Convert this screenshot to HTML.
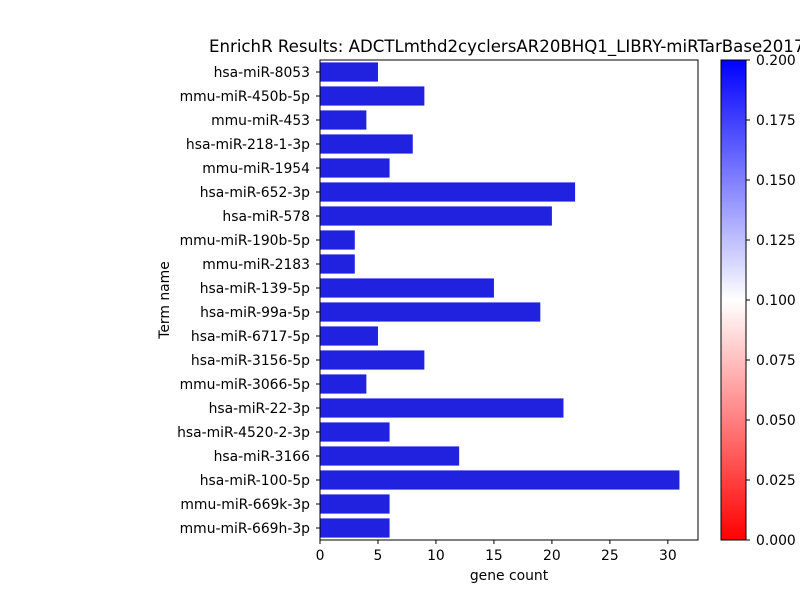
<!DOCTYPE html>
<html><head><meta charset="utf-8"><style>
body{margin:0;background:#fff;font-family:"Liberation Sans","DejaVu Sans",sans-serif;overflow:hidden;}
svg text{font-family:"DejaVu Sans","Liberation Sans",sans-serif;}
</style></head><body>
<svg id="chart" width="800" height="600" viewBox="0 0 800 600">
<defs><linearGradient id="bwr" x1="0" y1="1" x2="0" y2="0">
<stop offset="0" stop-color="#ff0000"/><stop offset="0.5" stop-color="#ffffff"/><stop offset="1" stop-color="#0000ff"/>
</linearGradient></defs>
<g id="bars"></g>
<g id="axes"></g>
<text x="209" y="52" font-size="16.6">EnrichR Results: ADCTLmthd2cyclersAR20BHQ1_LIBRY-miRTarBase2017</text>
<text x="509" y="580" font-size="13.9" text-anchor="middle">gene count</text>
<text transform="translate(169,300) rotate(-90)" font-size="13.9" text-anchor="middle">Term name</text>
<rect x="721" y="60" width="25" height="480" fill="url(#bwr)" stroke="#000" stroke-width="1"/>
<g id="cbticks"></g>
</svg>
<script>
const categories=["hsa-miR-8053","mmu-miR-450b-5p","mmu-miR-453","hsa-miR-218-1-3p","mmu-miR-1954","hsa-miR-652-3p","hsa-miR-578","mmu-miR-190b-5p","mmu-miR-2183","hsa-miR-139-5p","hsa-miR-99a-5p","hsa-miR-6717-5p","hsa-miR-3156-5p","mmu-miR-3066-5p","hsa-miR-22-3p","hsa-miR-4520-2-3p","hsa-miR-3166","hsa-miR-100-5p","mmu-miR-669k-3p","mmu-miR-669h-3p"];
const counts=[5,9,4,8,6,22,20,3,3,15,19,5,9,4,21,6,12,31,6,6];
const xTicks=[0,5,10,15,20,25,30];
const cbTicks=["0.000","0.025","0.050","0.075","0.100","0.125","0.150","0.175","0.200"];
const NS="http://www.w3.org/2000/svg";
const L=320,R=698,T=60,B=540,xmax=32.6;
const xs=v=>L+v/xmax*(R-L);
const band=(B-T)/categories.length;
const ys=i=>T+band*(i+0.5);
function mk(p,tag,a){const e=document.createElementNS(NS,tag);for(const k in a)e.setAttribute(k,a[k]);p.appendChild(e);return e;}
const bars=document.getElementById('bars'),axes=document.getElementById('axes'),cb=document.getElementById('cbticks');
categories.forEach((c,i)=>{
 const r=mk(bars,'rect',{x:L,y:ys(i)-band*0.4,width:xs(counts[i])-L,height:band*0.8,fill:'#2121e0'});
 
 
 mk(axes,'line',{x1:L-4,x2:L,y1:ys(i),y2:ys(i),stroke:'#000'});
 const t=mk(axes,'text',{x:L-10,y:ys(i)+5,'font-size':13.9,'text-anchor':'end'});t.textContent=c;
 
 
});
mk(axes,'rect',{x:L,y:T,width:R-L,height:B-T,fill:'none',stroke:'#000','stroke-width':1});
xTicks.forEach(v=>{
 mk(axes,'line',{x1:xs(v),x2:xs(v),y1:B,y2:B+4,stroke:'#000'});
 const t=mk(axes,'text',{x:xs(v),y:B+20,'font-size':13.9,'text-anchor':'middle'});t.textContent=v;
 
 
});
cbTicks.forEach((s,i)=>{
 const y=B-i*(B-T)/(cbTicks.length-1);
 mk(cb,'line',{x1:746,x2:750,y1:y,y2:y,stroke:'#000'});
 const t=mk(cb,'text',{x:756,y:y+5,'font-size':13.9});t.textContent=s;
 
 
});
</script>
</body></html>
